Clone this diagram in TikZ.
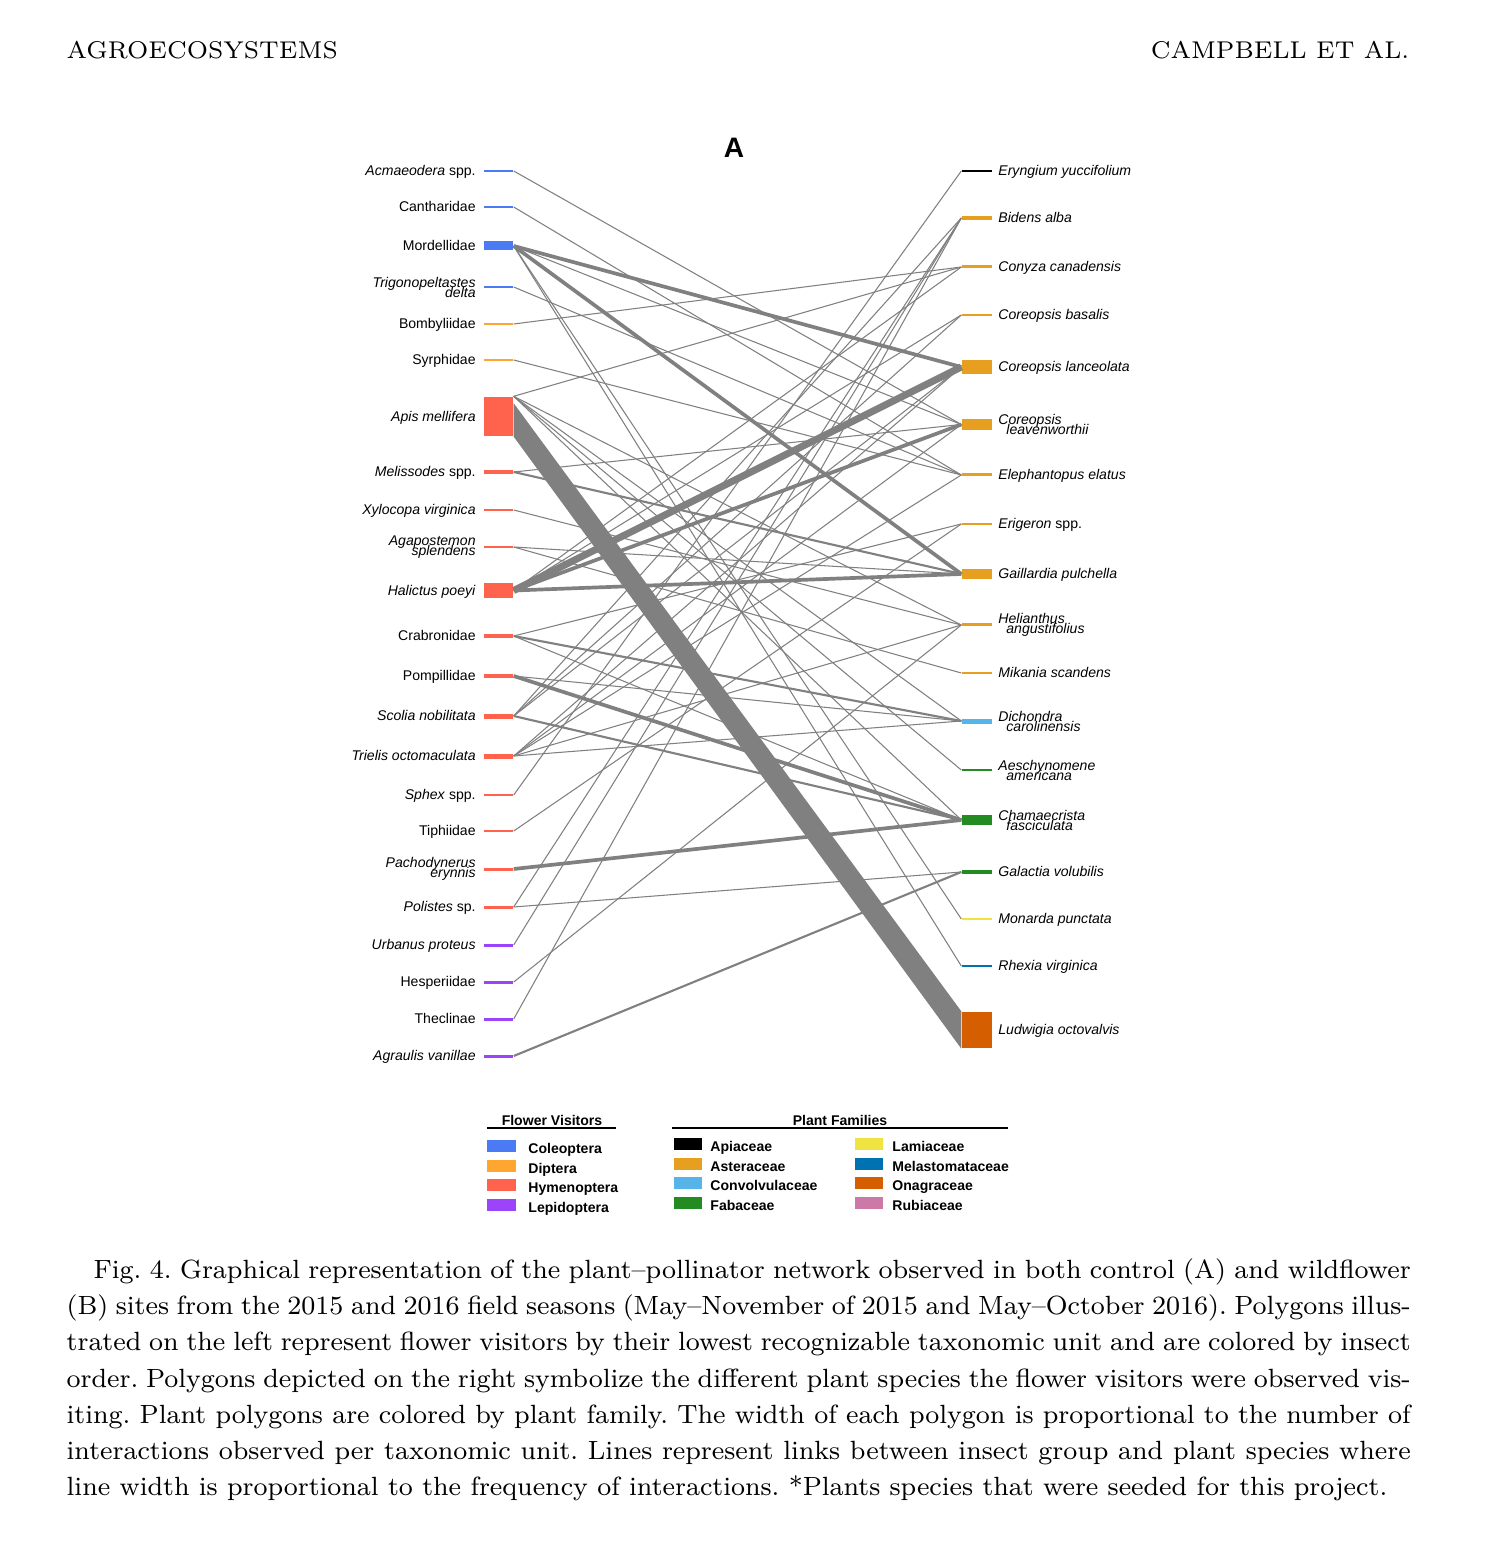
\documentclass[tikz,border=0pt]{standalone}
\usepackage{fontspec}
\newfontfamily\arial{Liberation Sans}
\usepackage{xcolor}
\usepackage{tikz}
\usetikzlibrary{positioning}
\definecolor{coleo}{RGB}{74,123,245}
\definecolor{dipt}{RGB}{255,166,48}
\definecolor{hymen}{RGB}{255,99,78}
\definecolor{lepid}{RGB}{155,68,250}
\definecolor{apiac}{RGB}{0,0,0}
\definecolor{aster}{RGB}{230,159,30}
\definecolor{convo}{RGB}{86,180,233}
\definecolor{fabac}{RGB}{34,139,34}
\definecolor{lamia}{RGB}{240,228,66}
\definecolor{melas}{RGB}{0,114,178}
\definecolor{onagr}{RGB}{213,94,0}
\definecolor{rubia}{RGB}{204,121,167}
\definecolor{linkgray}{RGB}{128,128,128}
\newcommand*{\namefont}{\arial\fontsize{4}{2.85}\selectfont\lineskiplimit=-10pt\relax\lineskip=0pt\relax}
\tikzstyle{visnode}=[shape=rectangle, draw=none, inner sep=0pt, minimum width=2.9mm]
\tikzstyle{plantnode}=[shape=rectangle, draw=none, inner sep=0pt, minimum width=3mm]
\tikzstyle{visname}=[font=\namefont, inner sep=0pt]
\tikzstyle{plantname}=[font=\namefont, inner sep=0pt]
\tikzstyle{thinlink}=[draw=linkgray, line width=0.3pt]
\tikzstyle{midlink}=[draw=linkgray, line width=0.6pt]
\tikzstyle{heavylink}=[draw=linkgray, line width=1.05pt]
\tikzstyle{hugelink}=[draw=linkgray, line width=2pt]
\tikzstyle{swatch}=[shape=rectangle, draw=none, inner sep=0pt, minimum height=1.25mm]
\tikzstyle{legname}=[font=\arial\bfseries\fontsize{4}{4}\selectfont, inner sep=0pt, anchor=mid west]

\begin{document}
\begin{tikzpicture}[x=0.1mm, y=-0.1mm]
\fill[white] (0,0) rectangle (1492,1544);
\useasboundingbox (0,0) rectangle (1492,1544);

% running head
\node [anchor=base west, inner sep=0pt, font=\fontsize{6.9}{8}\selectfont] (headl) at (66,59) {AGROECOSYSTEMS};
\node [anchor=base east, inner sep=0pt, font=\fontsize{6.9}{8}\selectfont] (headr) at (1410,59) {CAMPBELL ET AL.};
\node [font=\arial\bfseries\fontsize{8}{8}\selectfont, inner sep=0pt] (panel) at (734,148) {A};

% flower visitors
\node [visnode, fill=coleo, minimum height=0.2mm] (acm) at (498.5,171) {};
\node [visnode, fill=coleo, minimum height=0.2mm] (can) at (498.5,207) {};
\node [visnode, fill=coleo, minimum height=0.9mm] (mor) at (498.5,246) {};
\node [visnode, fill=coleo, minimum height=0.2mm] (tri) at (498.5,287) {};
\node [visnode, fill=dipt, minimum height=0.2mm] (bom) at (498.5,324) {};
\node [visnode, fill=dipt, minimum height=0.2mm] (syr) at (498.5,360) {};
\node [visnode, fill=hymen, minimum height=3.9mm] (api) at (498.5,416.5) {};
\node [visnode, fill=hymen, minimum height=0.4mm] (mel) at (498.5,472) {};
\node [visnode, fill=hymen, minimum height=0.2mm] (xyl) at (498.5,510) {};
\node [visnode, fill=hymen, minimum height=0.25mm] (aga) at (498.5,547) {};
\node [visnode, fill=hymen, minimum height=1.5mm] (hal) at (498.5,590.5) {};
\node [visnode, fill=hymen, minimum height=0.4mm] (cra) at (498.5,636) {};
\node [visnode, fill=hymen, minimum height=0.4mm] (pom) at (498.5,676) {};
\node [visnode, fill=hymen, minimum height=0.5mm] (sco) at (498.5,716) {};
\node [visnode, fill=hymen, minimum height=0.5mm] (trl) at (498.5,756) {};
\node [visnode, fill=hymen, minimum height=0.2mm] (sph) at (498.5,795) {};
\node [visnode, fill=hymen, minimum height=0.2mm] (tip) at (498.5,831) {};
\node [visnode, fill=hymen, minimum height=0.3mm] (pac) at (498.5,869) {};
\node [visnode, fill=hymen, minimum height=0.3mm] (pol) at (498.5,907) {};
\node [visnode, fill=lepid, minimum height=0.3mm] (urb) at (498.5,945) {};
\node [visnode, fill=lepid, minimum height=0.3mm] (hes) at (498.5,982) {};
\node [visnode, fill=lepid, minimum height=0.3mm] (the) at (498.5,1019) {};
\node [visnode, fill=lepid, minimum height=0.3mm] (agr) at (498.5,1056) {};

\node [visname, left=0.7mm of acm, anchor=mid east, yshift=0.3mm] (acmname) {\textit{Acmaeodera} spp.};
\node [visname, left=0.7mm of can, anchor=mid east, yshift=0.3mm] (canname) {Cantharidae};
\node [visname, left=0.7mm of mor, anchor=mid east, yshift=0.3mm] (morname) {Mordellidae};
\node [visname, left=0.7mm of tri, align=right] (triname) {\textit{Trigonopeltastes}\\\textit{delta}};
\node [visname, left=0.7mm of bom, anchor=mid east, yshift=0.3mm] (bomname) {Bombyliidae};
\node [visname, left=0.7mm of syr, anchor=mid east, yshift=0.3mm] (syrname) {Syrphidae};
\node [visname, left=0.7mm of api, anchor=mid east, yshift=0.3mm] (apiname) {\textit{Apis mellifera}};
\node [visname, left=0.7mm of mel, anchor=mid east, yshift=0.3mm] (melname) {\textit{Melissodes} spp.};
\node [visname, left=0.7mm of xyl, anchor=mid east, yshift=0.3mm] (xylname) {\textit{Xylocopa virginica}};
\node [visname, left=0.7mm of aga, align=right] (aganame) {\textit{Agapostemon}\\\textit{splendens}};
\node [visname, left=0.7mm of hal, anchor=mid east, yshift=0.3mm] (halname) {\textit{Halictus poeyi}};
\node [visname, left=0.7mm of cra, anchor=mid east, yshift=0.3mm] (craname) {Crabronidae};
\node [visname, left=0.7mm of pom, anchor=mid east, yshift=0.3mm] (pomname) {Pompillidae};
\node [visname, left=0.7mm of sco, anchor=mid east, yshift=0.3mm] (sconame) {\textit{Scolia nobilitata}};
\node [visname, left=0.7mm of trl, anchor=mid east, yshift=0.3mm] (trlname) {\textit{Trielis octomaculata}};
\node [visname, left=0.7mm of sph, anchor=mid east, yshift=0.3mm] (sphname) {\textit{Sphex} spp.};
\node [visname, left=0.7mm of tip, anchor=mid east, yshift=0.3mm] (tipname) {Tiphiidae};
\node [visname, left=0.7mm of pac, align=right] (pacname) {\textit{Pachodynerus}\\\textit{erynnis}};
\node [visname, left=0.7mm of pol, anchor=mid east, yshift=0.3mm] (polname) {\textit{Polistes} sp.};
\node [visname, left=0.7mm of urb, anchor=mid east, yshift=0.3mm] (urbname) {\textit{Urbanus proteus}};
\node [visname, left=0.7mm of hes, anchor=mid east, yshift=0.3mm] (hesname) {Hesperiidae};
\node [visname, left=0.7mm of the, anchor=mid east, yshift=0.3mm] (thename) {Theclinae};
\node [visname, left=0.7mm of agr, anchor=mid east, yshift=0.3mm] (agrname) {\textit{Agraulis vanillae}};

% plant species
\node [plantnode, fill=apiac, minimum height=0.2mm] (ery) at (977,171) {};
\node [plantnode, fill=aster, minimum height=0.4mm] (bid) at (977,218) {};
\node [plantnode, fill=aster, minimum height=0.3mm] (con) at (977,267) {};
\node [plantnode, fill=aster, minimum height=0.25mm] (cba) at (977,315) {};
\node [plantnode, fill=aster, minimum height=1.4mm] (cla) at (977,367) {};
\node [plantnode, fill=aster, minimum height=1.1mm] (cle) at (977,424.5) {};
\node [plantnode, fill=aster, minimum height=0.3mm] (ele) at (977,475) {};
\node [plantnode, fill=aster, minimum height=0.25mm] (eri) at (977,524) {};
\node [plantnode, fill=aster, minimum height=1mm] (gai) at (977,574) {};
\node [plantnode, fill=aster, minimum height=0.3mm] (hel) at (977,625) {};
\node [plantnode, fill=aster, minimum height=0.2mm] (mik) at (977,673) {};
\node [plantnode, fill=convo, minimum height=0.5mm] (dic) at (977,721) {};
\node [plantnode, fill=fabac, minimum height=0.2mm] (aes) at (977,770) {};
\node [plantnode, fill=fabac, minimum height=1mm] (cha) at (977,820) {};
\node [plantnode, fill=fabac, minimum height=0.4mm] (gal) at (977,872) {};
\node [plantnode, fill=lamia, minimum height=0.2mm] (mon) at (977,919) {};
\node [plantnode, fill=melas, minimum height=0.2mm] (rhe) at (977,966) {};
\node [plantnode, fill=onagr, minimum height=3.6mm] (lud) at (977,1030) {};

\node [plantname, right=0.5mm of ery, anchor=mid west, yshift=0.3mm] (eryname) {\textit{Eryngium yuccifolium}};
\node [plantname, right=0.5mm of bid, anchor=mid west, yshift=0.3mm] (bidname) {\textit{Bidens alba}};
\node [plantname, right=0.5mm of con, anchor=mid west, yshift=0.3mm] (conname) {\textit{Conyza canadensis}};
\node [plantname, right=0.5mm of cba, anchor=mid west, yshift=0.3mm] (cbaname) {\textit{Coreopsis basalis}};
\node [plantname, right=0.5mm of cla, anchor=mid west, yshift=0.3mm] (claname) {\textit{Coreopsis lanceolata}};
\node [plantname, right=0.5mm of cle, align=left] (clename) {\textit{Coreopsis}\\\hspace{0.8mm}\textit{leavenworthii}};
\node [plantname, right=0.5mm of ele, anchor=mid west, yshift=0.3mm] (elename) {\textit{Elephantopus elatus}};
\node [plantname, right=0.5mm of eri, anchor=mid west, yshift=0.3mm] (eriname) {\textit{Erigeron} spp.};
\node [plantname, right=0.5mm of gai, anchor=mid west, yshift=0.3mm] (gainame) {\textit{Gaillardia pulchella}};
\node [plantname, right=0.5mm of hel, align=left] (helname) {\textit{Helianthus}\\\hspace{0.8mm}\textit{angustifolius}};
\node [plantname, right=0.5mm of mik, anchor=mid west, yshift=0.3mm] (mikname) {\textit{Mikania scandens}};
\node [plantname, right=0.5mm of dic, align=left] (dicname) {\textit{Dichondra}\\\hspace{0.8mm}\textit{carolinensis}};
\node [plantname, right=0.5mm of aes, align=left] (aesname) {\textit{Aeschynomene}\\\hspace{0.8mm}\textit{americana}};
\node [plantname, right=0.5mm of cha, align=left] (chaname) {\textit{Chamaecrista}\\\hspace{0.8mm}\textit{fasciculata}};
\node [plantname, right=0.5mm of gal, anchor=mid west, yshift=0.3mm] (galname) {\textit{Galactia volubilis}};
\node [plantname, right=0.5mm of mon, anchor=mid west, yshift=0.3mm] (monname) {\textit{Monarda punctata}};
\node [plantname, right=0.5mm of rhe, anchor=mid west, yshift=0.3mm] (rhename) {\textit{Rhexia virginica}};
\node [plantname, right=0.5mm of lud, anchor=mid west, yshift=0.3mm] (ludname) {\textit{Ludwigia octovalvis}};

% interactions
\fill[linkgray] ([yshift=-0.7mm]api.north east) -- (api.south east) -- (lud.south west) -- (lud.north west) -- cycle;
\draw[thinlink] (acm.east) -- (cle.west);
\draw[thinlink] (can.east) -- (ele.west);
\draw[heavylink] (mor.east) -- (cla.west);
\draw[thinlink] (mor.east) -- (cle.west);
\draw[heavylink] (mor.east) -- (gai.west);
\draw[thinlink] (mor.east) -- (mon.west);
\draw[thinlink] (mor.east) -- (rhe.west);
\draw[thinlink] (tri.east) -- (ele.west);
\draw[thinlink] (bom.east) -- (con.west);
\draw[thinlink] (syr.east) -- (ele.west);
\draw[thinlink] (api.north east) -- (con.west);
\draw[thinlink] (api.north east) -- (hel.west);
\draw[thinlink] (api.north east) -- (dic.west);
\draw[thinlink] (api.north east) -- (aes.west);
\draw[thinlink] (api.north east) -- (cha.west);
\draw[thinlink] (mel.east) -- (cle.west);
\draw[midlink] (mel.east) -- (gai.west);
\draw[thinlink] (xyl.east) -- (hel.west);
\draw[thinlink] (aga.east) -- (gai.west);
\draw[thinlink] (aga.east) -- (mik.west);
\draw[hugelink] (hal.east) -- (cla.west);
\draw[heavylink] (hal.east) -- (cle.west);
\draw[heavylink] (hal.east) -- (gai.west);
\draw[thinlink] (hal.east) -- (con.west);
\draw[thinlink] (hal.east) -- (cba.west);
\draw[thinlink] (cra.east) -- (eri.west);
\draw[midlink] (cra.east) -- (dic.west);
\draw[thinlink] (cra.east) -- (cha.west);
\draw[thinlink] (pom.east) -- (dic.west);
\draw[heavylink] (pom.east) -- (cha.west);
\draw[midlink] (sco.east) -- (cha.west);
\draw[thinlink] (sco.east) -- (cba.west);
\draw[thinlink] (sco.east) -- (cla.west);
\draw[thinlink] (sco.east) -- (bid.west);
\draw[thinlink] (trl.east) -- (dic.west);
\draw[thinlink] (trl.east) -- (hel.west);
\draw[thinlink] (trl.east) -- (cle.west);
\draw[thinlink] (trl.east) -- (cla.west);
\draw[thinlink] (trl.east) -- (ele.west);
\draw[thinlink] (sph.east) -- (ery.west);
\draw[thinlink] (tip.east) -- (eri.west);
\draw[heavylink] (pac.east) -- (cha.west);
\draw[thinlink] (pol.east) -- (gal.west);
\draw[thinlink] (pol.east) -- (bid.west);
\draw[thinlink] (urb.east) -- (bid.west);
\draw[thinlink] (hes.east) -- (hel.west);
\draw[thinlink] (the.east) -- (bid.west);
\draw[midlink] (agr.east) -- (gal.west);

% legend
\node [font=\arial\bfseries\fontsize{4}{4}\selectfont, inner sep=0pt] (fvtitle) at (552,1120) {Flower Visitors};
\coordinate (fvl) at (487,1128);
\coordinate (fvr) at (616,1128);
\draw[line width=0.35pt] (fvl) -- (fvr);
\node [swatch, fill=coleo, minimum width=2.9mm] (lcol) at (501.5,1146) {};
\node [swatch, fill=dipt, minimum width=2.9mm] (ldip) at (501.5,1166) {};
\node [swatch, fill=hymen, minimum width=2.9mm] (lhym) at (501.5,1185) {};
\node [swatch, fill=lepid, minimum width=2.9mm] (llep) at (501.5,1205) {};
\node [legname, right=1.1mm of lcol, anchor=mid west] {Coleoptera};
\node [legname, right=1.1mm of ldip, anchor=mid west] {Diptera};
\node [legname, right=1.1mm of lhym, anchor=mid west] {Hymenoptera};
\node [legname, right=1.1mm of llep, anchor=mid west] {Lepidoptera};

\node [font=\arial\bfseries\fontsize{4}{4}\selectfont, inner sep=0pt] (pftitle) at (840,1120) {Plant Families};
\coordinate (pfl) at (672,1128);
\coordinate (pfr) at (1008,1128);
\draw[line width=0.35pt] (pfl) -- (pfr);
\node [swatch, fill=apiac, minimum width=2.8mm] (lapi) at (688,1144) {};
\node [swatch, fill=aster, minimum width=2.8mm] (last) at (688,1164) {};
\node [swatch, fill=convo, minimum width=2.8mm] (lcon) at (688,1183) {};
\node [swatch, fill=fabac, minimum width=2.8mm] (lfab) at (688,1203) {};
\node [swatch, fill=lamia, minimum width=2.8mm] (llam) at (869,1144) {};
\node [swatch, fill=melas, minimum width=2.8mm] (lmel) at (869,1164) {};
\node [swatch, fill=onagr, minimum width=2.8mm] (lona) at (869,1183) {};
\node [swatch, fill=rubia, minimum width=2.8mm] (lrub) at (869,1203) {};
\node [legname, right=0.7mm of lapi, anchor=mid west] {Apiaceae};
\node [legname, right=0.7mm of last, anchor=mid west] {Asteraceae};
\node [legname, right=0.7mm of lcon, anchor=mid west] {Convolvulaceae};
\node [legname, right=0.7mm of lfab, anchor=mid west] {Fabaceae};
\node [legname, right=0.8mm of llam, anchor=mid west] {Lamiaceae};
\node [legname, right=0.8mm of lmel, anchor=mid west] {Melastomataceae};
\node [legname, right=0.8mm of lona, anchor=mid west] {Onagraceae};
\node [legname, right=0.8mm of lrub, anchor=mid west] {Rubiaceae};

% caption
\node [anchor=north west, inner sep=0pt, text width=134.4mm, align=justify, font=\fontsize{7.5}{10.3}\selectfont\frenchspacing] (caption) at (66,1258) {\hspace*{2.7mm}Fig. 4. Graphical representation of the plant--pollinator network observed in both control (A) and wildflower\linebreak
(B) sites from the 2015 and 2016 field seasons (May--November of 2015 and May--October 2016). Polygons illus-\linebreak
trated on the left represent flower visitors by their lowest recognizable taxonomic unit and are colored by insect\linebreak
order. Polygons depicted on the right symbolize the different plant species the flower visitors were observed vis-\linebreak
iting. Plant polygons are colored by plant family. The width of each polygon is proportional to the number of\linebreak
interactions observed per taxonomic unit. Lines represent links between insect group and plant species where\linebreak
line width is proportional to the frequency of interactions. *Plants species that were seeded for this project.};
\end{tikzpicture}
\end{document}
